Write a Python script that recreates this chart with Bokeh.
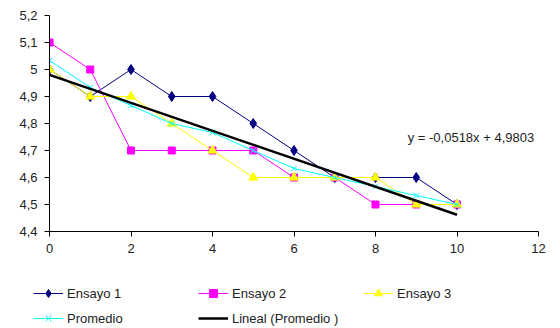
from bokeh.plotting import figure
from bokeh.layouts import column
from bokeh.models import Range1d, FixedTicker, CustomJSTickFormatter, Legend, LegendItem, Label
from bokeh.embed import file_html
from bokeh.resources import INLINE
import numpy as np

x = list(range(11))
ensayo1 = [5.0, 4.9, 5.0, 4.9, 4.9, 4.8, 4.7, 4.6, 4.6, 4.6, 4.5]
ensayo2 = [5.1, 5.0, 4.7, 4.7, 4.7, 4.7, 4.6, 4.6, 4.5, 4.5, 4.5]
ensayo3 = [5.0, 4.9, 4.9, 4.8, 4.7, 4.6, 4.6, 4.6, 4.6, 4.5, 4.5]
promedio = [(a + b + c) / 3 for a, b, c in zip(ensayo1, ensayo2, ensayo3)]
x_ticks = [0, 2, 4, 6, 8, 10, 12]
y_ticks = [4.4, 4.5, 4.6, 4.7, 4.8, 4.9, 5.0, 5.1, 5.2]
labels = ["Ensayo 1", "Ensayo 2", "Ensayo 3", "Promedio", "Lineal (Promedio )"]

slope, intercept = np.polyfit(x, promedio, 1)
trend_x = [x[0], x[-1]]
trend_y = [intercept + slope * v for v in trend_x]

FONT = "Liberation Sans"
FS = "13px"
TXT = "#222222"

STYLES = [
    dict(color="#000080", marker="diamond", size=10),
    dict(color="#FF00FF", marker="square", size=7),
    dict(color="#FFFF00", marker="triangle", size=9),
    dict(color="#00FFFF", marker="x", size=8),
]
SERIES = [ensayo1, ensayo2, ensayo3, promedio]

p = figure(frame_width=489, frame_height=216, output_backend="svg", toolbar_location=None,
           x_range=Range1d(0, 12), y_range=Range1d(4.4, 5.2), frame_align=False,
           min_border_left=49, min_border_right=22, min_border_top=15, min_border_bottom=28)
p.outline_line_color = None
p.xgrid.grid_line_color = None
p.ygrid.grid_line_color = None

fmt = CustomJSTickFormatter(code="return String(Math.round(tick*10)/10).replace('.', ',');")
for ax, ticks in ((p.xaxis[0], x_ticks), (p.yaxis[0], y_ticks)):
    ax.ticker = FixedTicker(ticks=ticks)
    ax.minor_tick_line_color = None
    ax.major_tick_in = 0
    ax.major_tick_out = 5
    ax.axis_line_color = "black"
    ax.major_tick_line_color = "black"
    ax.major_label_text_font = FONT
    ax.major_label_text_font_size = FS
    ax.major_label_text_color = TXT
    ax.formatter = fmt
p.xaxis[0].major_label_standoff = 7
p.yaxis[0].major_label_standoff = 7


def draw_series(fig, xs, ys, st):
    ln = fig.line(xs, ys, line_color=st["color"], line_width=1)
    if st["marker"] == "x":
        mk = fig.scatter(xs, ys, marker="x", size=st["size"], line_color=st["color"], line_width=1)
    else:
        mk = fig.scatter(xs, ys, marker=st["marker"], size=st["size"],
                         fill_color=st["color"], line_color=st["color"])
    return [ln, mk]


for ys, st in zip(SERIES, STYLES):
    draw_series(p, x, ys, st)
p.line(trend_x, trend_y, line_color="black", line_width=2.5)

eq = "y = {:.4f}x + {:.4f}".format(slope, intercept).replace(".", ",")
p.add_layout(Label(x=8.79, y=4.748, text=eq, text_font=FONT, text_font_size=FS,
                   text_color=TXT, text_baseline="middle", text_align="left"))

# legend strip below the chart (its series lie outside its visible range)
q = figure(width=560, height=69, output_backend="svg", toolbar_location=None,
           x_range=Range1d(0, 12), y_range=Range1d(0, 1), x_axis_type=None, y_axis_type=None,
           frame_align=False,
           min_border_left=0, min_border_right=0, min_border_top=0, min_border_bottom=0)
q.outline_line_color = None
q.xgrid.grid_line_color = None
q.ygrid.grid_line_color = None
items = []
for lab, ys, st in zip(labels[:4], SERIES, STYLES):
    items.append(LegendItem(label=lab, renderers=draw_series(q, x, ys, st)))
items.append(LegendItem(label=labels[4],
                        renderers=[q.line(trend_x, trend_y, line_color="black", line_width=2.5)]))

legend = Legend(items=items, ncols=3, orientation="horizontal")
legend.label_text_font = FONT
legend.label_text_font_size = FS
legend.label_text_color = TXT
legend.glyph_width = 30
legend.glyph_height = 20
legend.label_standoff = 4
legend.label_width = 126
legend.label_height = 20
legend.spacing = 5
legend.padding = 0
legend.margin = 0
legend.border_line_color = None
legend.background_fill_alpha = 0
legend.location = (33, 0)
q.add_layout(legend, "center")

layout = column(p, q, spacing=0)
open("out.html", "w").write(file_html(layout, INLINE))
